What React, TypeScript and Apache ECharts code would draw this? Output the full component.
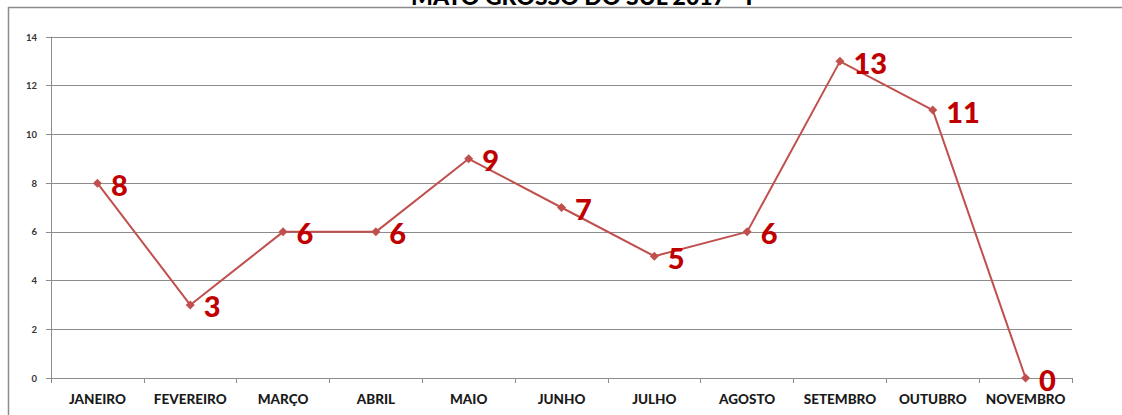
import React, { useEffect, useRef } from "react";
import * as echarts from "echarts";

const categories = ["JANEIRO", "FEVEREIRO", "MARÇO", "ABRIL", "MAIO", "JUNHO", "JULHO", "AGOSTO", "SETEMBRO", "OUTUBRO", "NOVEMBRO"];
const values = [8, 3, 6, 6, 9, 7, 5, 6, 13, 11, 0];
const titleText = "MATO GROSSO DO SUL 2017 - I";

export default function App() {
  const ref = useRef<HTMLDivElement>(null);
  useEffect(() => {
    document.body.style.margin = "0";
    const chart = echarts.init(ref.current!, null, { renderer: "svg" });
    chart.setOption({
      animation: false,
      backgroundColor: "#ffffff",
      title: {
        text: titleText,
        left: 406,
        top: -21,
        textStyle: { fontFamily: "Lato", fontWeight: 900, fontSize: 23, color: "#000" },
      },
      graphic: [
        { type: "line", shape: { x1: 8, y1: 7.5, x2: 1122, y2: 7.5 }, style: { stroke: "#8c8c8c", lineWidth: 1.5 } },
        { type: "line", shape: { x1: 8.5, y1: 7, x2: 8.5, y2: 415 }, style: { stroke: "#8c8c8c", lineWidth: 1.5 } },
      ],
      grid: { left: 51, right: 50, top: 37, bottom: 37 },
      xAxis: {
        type: "category",
        data: categories,
        boundaryGap: true,
        axisLine: { show: true, lineStyle: { color: "#8c8c8c", width: 1 } },
        axisTick: { show: true, interval: 0, length: 5, lineStyle: { color: "#8c8c8c" } },
        axisLabel: { interval: 0, margin: 14, fontFamily: "Lato", fontWeight: 900, fontSize: 13.5, color: "#1a1a1a" },
      },
      yAxis: {
        type: "value",
        min: 0,
        max: 14,
        interval: 2,
        axisLine: { show: true, lineStyle: { color: "#8c8c8c", width: 1 } },
        axisTick: { show: true, length: 5, lineStyle: { color: "#8c8c8c" } },
        axisLabel: { margin: 14, fontFamily: "Lato", fontWeight: "bold", fontSize: 9.5, color: "#333" },
        splitLine: { show: true, lineStyle: { color: "#8c8c8c", width: 1 } },
      },
      series: [
        {
          type: "line",
          data: values,
          symbol: "diamond",
          symbolSize: 9,
          lineStyle: { color: "#c0504d", width: 2 },
          itemStyle: { color: "#c0504d" },
          label: {
            show: true,
            position: "right",
            distance: 9,
            offset: [0, 1],
            fontFamily: "Lato",
            fontWeight: 900,
            fontSize: 29,
            color: "#c00000",
          },
        },
      ],
    });
    return () => chart.dispose();
  }, []);
  return <div ref={ref} style={{ position: "absolute", left: 0, top: 0, width: 1122, height: 415 }} />;
}
